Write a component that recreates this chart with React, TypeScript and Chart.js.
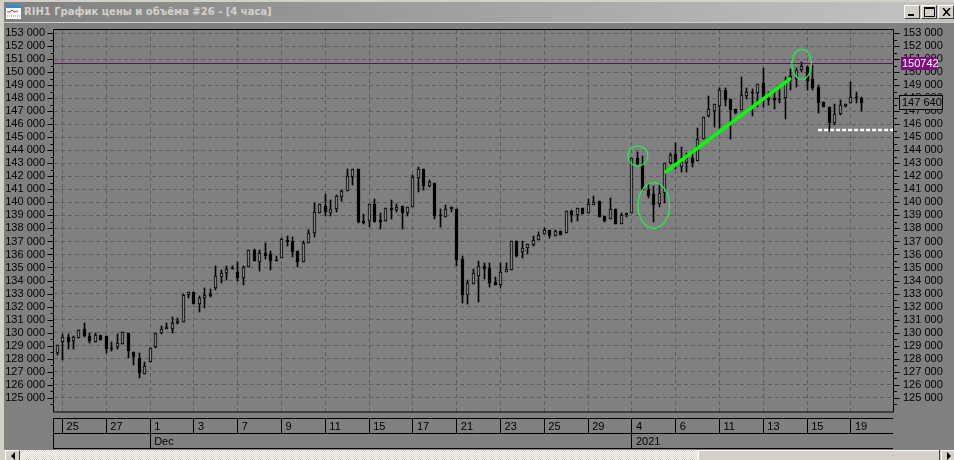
import React, { useEffect, useRef } from "react";
import { Chart, registerables } from "chart.js";

Chart.register(...registerables);

const title = "RIH1 График цены и объёма #26 - [4 часа]";

const opens = [128440,129280,129670,129360,129590,130310,129740,129280,129820,129770,128850,128900,129150,130000,128540,128080,126850,127770,128870,129970,130310,130280,130740,130820,132920,133150,132200,132690,133000,133460,134280,134540,134970,134690,134230,135050,136330,135440,136150,136000,135540,135740,137100,137030,136260,135440,136900,137620,139210,139690,139180,139510,140440,140900,141980,142560,138570,138570,139870,138620,138590,139540,139410,139690,139210,139670,141900,142560,141260,141490,139030,138900,139460,139490,135620,132900,133740,134360,135150,134950,133920,133670,134670,134820,137030,136200,136510,136740,137130,137560,137920,137440,137800,137670,139330,139050,139560,139200,139820,140080,138920,138690,139460,138310,139000,139210,143380,142850,140950,140620,139850,140690,143000,143720,142740,143050,143380,143210,144850,146640,147050,147440,148640,147920,147150,147080,148210,148490,148440,149150,148050,148000,147950,148000,149360,149490,150180,150440,149460,148850,147720,147310,146130,146770,147410,147670,148050,148030];
const highs = [129080,129920,129850,129740,130230,130770,130000,130000,129820,129770,129260,129870,130050,130000,128540,128460,127770,128850,130000,130540,130770,131230,131150,133000,133080,133150,132800,133410,133310,135150,134770,135150,135080,135460,135080,136380,136410,136330,136850,136230,135870,137280,137410,137310,136260,137030,137870,139950,139850,140640,140180,140570,140980,142590,142560,142560,139080,139870,140230,139150,139540,140150,139870,139690,139620,142100,142690,142560,141740,141490,139460,139770,139620,139490,135850,134030,134870,135490,135330,135330,134260,135380,135310,137030,137030,137030,136770,137410,137720,138030,137920,137900,137800,139380,139440,139540,139560,140260,140460,140080,138920,140330,139460,139180,139150,143380,143900,143560,141410,141260,141410,143000,143820,144540,144230,143820,144030,145690,146590,148180,147540,148770,148770,147920,147200,149620,148770,148690,149130,150310,148510,148640,148770,149670,150230,150310,150770,150490,150560,149000,147720,147310,147540,147870,147590,149260,148460,148130];
const lows = [128260,127870,128720,128720,129590,129670,129200,129280,129440,128440,128590,128740,129150,128050,127510,126510,126850,127770,128820,129920,130280,129970,130670,130820,132670,132200,131560,131900,132740,133280,133820,134050,134900,134000,133670,135050,135510,134740,135670,134820,135510,135740,136670,135820,135030,135440,136900,137360,139210,138980,138980,139260,140130,140900,141330,138410,138330,138100,138510,137950,138590,138720,139230,137950,138950,139670,140820,140950,141210,138740,138100,138900,139280,135130,132280,132210,133740,132360,134130,133510,133670,133440,134670,134770,135800,135740,136030,136690,137130,137560,137260,137440,137510,137670,138510,138590,139130,139200,139820,138900,138510,138690,138310,138310,138900,139210,142870,140950,140310,138510,139670,139920,142950,142540,142360,142360,142690,143210,144850,146590,145820,145690,147440,144900,146800,147080,147980,146640,147360,147360,147490,147180,147620,146410,148640,148900,150050,148640,148640,146850,147310,145510,145950,146740,147310,147670,147640,147050];
const closes = [129080,129670,129280,129620,130180,129740,129360,129820,129440,128720,128720,129230,130050,128590,128130,126900,127460,128850,130000,130310,130460,130740,130920,132920,133080,132200,132690,132920,132820,134380,134540,134920,134920,134230,135000,136380,135510,136150,135900,135510,135510,137180,136980,136210,135440,136850,137620,139230,139850,139260,139460,140490,140870,142030,142560,138490,138440,139870,138510,138510,139540,139440,139670,139210,139620,141920,142560,141280,141560,138980,138920,139460,139620,135590,132900,133770,134540,135150,134870,133820,133670,134690,134850,137030,135870,136460,136770,137150,137490,137920,137440,137800,137510,139330,139050,139540,139130,139870,140050,138900,138590,139460,138310,139000,139150,143380,142920,140950,140490,139820,140690,143000,143640,143000,143080,143380,143050,144850,146590,147150,147540,148640,147870,147100,146900,148230,148460,148380,149130,148080,147900,147900,147900,149150,149740,150150,150490,149360,148770,147670,147310,146130,146770,147460,147590,148080,148000,147640];

const dateLabels = ["25","27","1","3","7","9","11","15","17","21","23","25","29","4","6","11","13","15","19"];
const dateIndices = [1,9,17,25,33,41,49,57,65,73,81,89,97,105,113,121,129,137,145];
const periodLabels = ["Dec","2021"];
const periodIndices = [17,105];
const priceTicks = [153000,152500,152000,151500,151000,150500,150000,149500,149000,148500,148000,147500,147000,146500,146000,145500,145000,144500,144000,143500,143000,142500,142000,141500,141000,140500,140000,139500,139000,138500,138000,137500,137000,136500,136000,135500,135000,134500,134000,133500,133000,132500,132000,131500,131000,130500,130000,129500,129000,128500,128000,127500,127000,126500,126000,125500,125000,124500];

const trendIndices = [111,134];
const trendPrices = [142290,149540];
const supportIndices = [139,152.9];
const supportPrices = [145570,145570];
const lastHighPrice = 150742;
const lastClosePrice = 147640;
const circleIndices = [106.06,108.98,136.0];
const circlePrices = [143570,139765,150617];
const circleIndexRadii = [1.83,2.89,1.79];
const circlePriceRadii = [769,1752,1153];

const GRAY = "#808080";
const FONT = "11px 'Liberation Sans', Arial, sans-serif";
const fmt = (v: number) => {
  const s = String(Math.round(v));
  return s.slice(0, -3) + " " + s.slice(-3);
};
const priceTickList = (s: any) => { s.ticks = priceTicks.map((value) => ({ value })); };
const priceLabel = (v: any) => (v % 1000 === 0 ? fmt(v) : "");

const frame = {
  id: "frame",
  afterDatasetsUpdate(chart: any) {
    chart.data.datasets.forEach((d: any, n: number) => {
      if (d.type === "line") {
        if (d.label === "High") chart.getDatasetMeta(n).data.forEach((el: any) => { el.y = Math.round(el.y) + 0.5; });
        return;
      }
      chart.getDatasetMeta(n).data.forEach((el: any) => {
        el.x = Math.floor(el.x) + 0.5;
        const top = Math.round(Math.min(el.y, el.base));
        let bot = Math.round(Math.max(el.y, el.base));
        if (bot - top < 1) bot = top + 1;
        el.y = top;
        el.base = bot;
      });
    });
  },
  afterDraw(chart: any) {
    const { ctx, chartArea: a, scales } = chart;
    const { x, y } = scales;
    ctx.save();
    ctx.strokeStyle = "#000";
    ctx.lineWidth = 1;
    ctx.beginPath();
    ctx.rect(53.5, a.top - 0.5, a.right - 53.5 - 0.5, a.bottom - a.top + 0.5);
    for (const t of y.ticks) {
      const p = Math.round(y.getPixelForValue(t.value)) + 0.5;
      const major = t.value % 1000 === 0;
      ctx.moveTo(major ? 47.5 : 50.5, p);
      ctx.lineTo(53.5, p);
      ctx.moveTo(a.right - 0.5, p);
      ctx.lineTo(a.right + (major ? 5.5 : 3), p);
    }
    const R = a.right - 1;
    [418.5, 433.5, 448.5].forEach((ly) => {
      ctx.moveTo(53.5, ly);
      ctx.lineTo(R, ly);
    });
    ctx.moveTo(53.5, 418);
    ctx.lineTo(53.5, 449);
    dateIndices.forEach((i) => {
      const p = Math.floor(x.getPixelForValue(i)) + 0.5;
      ctx.moveTo(p, 418);
      ctx.lineTo(p, 433);
    });
    periodIndices.forEach((i) => {
      const p = Math.floor(x.getPixelForValue(i)) + 0.5;
      ctx.moveTo(p, 433);
      ctx.lineTo(p, 448);
    });
    ctx.stroke();

    ctx.strokeStyle = "#19f545";
    ctx.lineWidth = 1.2;
    circleIndices.forEach((c, n) => {
      const cx = x.getPixelForValue(c);
      const cy = y.getPixelForValue(circlePrices[n]);
      const rx = x.getPixelForValue(c + circleIndexRadii[n]) - cx;
      const ry = cy - y.getPixelForValue(circlePrices[n] + circlePriceRadii[n]);
      ctx.beginPath();
      ctx.ellipse(cx, cy, rx, ry, 0, 0, Math.PI * 2);
      ctx.stroke();
    });
    ctx.lineWidth = 1;

    ctx.font = FONT;
    ctx.textBaseline = "middle";
    ctx.textAlign = "left";
    const hy = Math.round(y.getPixelForValue(lastHighPrice));
    ctx.fillStyle = "#7d0f7d";
    ctx.fillRect(901, hy - 6, 36, 13);
    ctx.fillStyle = "#fff";
    ctx.fillText(String(lastHighPrice), 902, hy + 1);
    const cy = Math.round(y.getPixelForValue(lastClosePrice));
    ctx.fillStyle = GRAY;
    ctx.fillRect(899.5, cy - 7.5, 43, 14);
    ctx.strokeStyle = "#000";
    ctx.strokeRect(899.5, cy - 7.5, 43, 14);
    ctx.fillStyle = "#000";
    ctx.fillText(fmt(lastClosePrice), 902, cy);
    ctx.restore();
  },
};

function App() {
  const ref = useRef<HTMLCanvasElement>(null);
  useEffect(() => {
    const gridColor = "#5e5e5e";
    const bodies = opens.map((o, i) => ({ x: i, y: [o, closes[i]] }));
    const wicks = highs.map((h, i) => ({ x: i, y: [lows[i], h] }));
    const chart = new Chart(ref.current!, {
      type: "bar",
      data: {
        datasets: [
          {
            type: "line", label: "Trend", order: 0,
            data: trendIndices.map((x, i) => ({ x, y: trendPrices[i] })),
            borderColor: "#00ff00", borderWidth: 3.5, pointRadius: 0, xAxisID: "x", yAxisID: "y",
          },
          {
            type: "line", label: "Support", order: 0,
            data: supportIndices.map((x, i) => ({ x, y: supportPrices[i] })),
            borderColor: "#ffffff", borderWidth: 2.5, borderDash: [4, 2], pointRadius: 0, xAxisID: "x", yAxisID: "y",
          },
          {
            type: "line", label: "High", order: 0,
            data: [{ x: -1, y: lastHighPrice }, { x: 153, y: lastHighPrice }],
            borderColor: "#5f115f", borderWidth: 1, pointRadius: 0, xAxisID: "x", yAxisID: "y",
          },
          {
            label: "Body", order: 1, data: bodies, barThickness: 3, grouped: false, minBarLength: 1,
            backgroundColor: opens.map((o, i) => (closes[i] > o ? GRAY : "#000")),
            borderColor: "#000", borderWidth: 1, borderSkipped: false,
          },
          {
            label: "Wick", order: 2, data: wicks, barThickness: 1, grouped: false,
            backgroundColor: "#000", borderWidth: 0,
          },
        ] as any,
      },
      options: {
        responsive: false,
        animation: false,
        events: [],
        layout: { padding: { left: 0, right: 0, top: 30, bottom: 0 } },
        plugins: { legend: { display: false }, tooltip: { enabled: false } },
        scales: {
          x: {
            type: "linear", offset: false, min: -0.566, max: 152.86,
            afterFit: (s: any) => { s.height = 48; },
            afterBuildTicks: (s: any) => { s.ticks = dateIndices.map((value) => ({ value })); },
            grid: { offset: false, color: gridColor, drawTicks: false, lineWidth: 1 },
            border: { display: false, dash: [4, 3] },
            ticks: {
              autoSkip: false, maxRotation: 0, minRotation: 0, align: "start", labelOffset: 4, padding: 7,
              color: "#000", font: { family: "'Liberation Sans', Arial, sans-serif", size: 11, lineHeight: "15px" },
              callback: (_v: any, i: number) => {
                const p = periodIndices.indexOf(dateIndices[i]);
                return p >= 0 ? [dateLabels[i], periodLabels[p]] : [dateLabels[i]];
              },
            },
          },
          y: {
            position: "left", min: 123893, max: 153254,
            afterFit: (s: any) => { s.width = 54; },
            afterBuildTicks: priceTickList,
            grid: {
              color: (c: any) => (c.tick && c.tick.value % 1000 === 0 ? gridColor : "rgba(0,0,0,0)"),
              drawTicks: false,
            },
            border: { display: false, dash: [4, 3] },
            ticks: {
              autoSkip: false, padding: 9, color: "#000",
              font: { family: "'Liberation Sans', Arial, sans-serif", size: 11 },
              callback: priceLabel,
            },
          },
          y1: {
            position: "right", min: 123893, max: 153254,
            afterFit: (s: any) => { s.width = 60; },
            afterBuildTicks: priceTickList,
            grid: { display: false, drawTicks: false },
            border: { display: false },
            ticks: {
              autoSkip: false, padding: 9, color: "#000",
              font: { family: "'Liberation Sans', Arial, sans-serif", size: 11 },
              callback: priceLabel,
            },
          },
        },
      } as any,
      plugins: [frame],
    });
    return () => chart.destroy();
  }, []);

  const abs = (l: number, t: number, w: number, h: number, extra: any = {}) => ({
    position: "absolute" as const, left: l, top: t, width: w, height: h, ...extra,
  });
  const btn = { background: "#d4d0c8", borderTop: "1px solid #fff", borderLeft: "1px solid #fff", borderRight: "1px solid #404040", borderBottom: "1px solid #404040", boxSizing: "border-box" as const };
  const checker = { background: "repeating-conic-gradient(#d4d0c8 0 25%, #ffffff 0 50%) 0 0 / 2px 2px" };

  return (
    <div style={{ position: "fixed", left: 0, top: 0, width: 954, height: 460, overflow: "hidden", background: GRAY }}>
      <canvas ref={ref} width={954} height={460} style={{ position: "absolute", left: 0, top: 0, width: 954, height: 460, background: GRAY }} />
      <div style={abs(0, 0, 954, 2, { background: "#d4d0c8" })} />
      <div style={abs(0, 0, 4, 460, { background: "#d4d0c8" })} />
      <div style={abs(4, 2, 950, 20, { background: "linear-gradient(90deg,#808080,#c4c4c4)" })} />
      <div style={abs(4, 22, 950, 1, { background: "#d4d0c8" })} />
      <svg style={abs(6, 5, 15, 14)} viewBox="0 0 15 14">
        <rect x="0" y="0" width="15" height="14" fill="#ffffff" />
        <rect x="0" y="0" width="15" height="3" fill="#2a8fd0" />
        <path d="M1 7 L4 7 L6 5 L8 7 L12 6" stroke="#e03030" fill="none" />
        <path d="M1 11 L14 11" stroke="#3a7fd0" strokeDasharray="1 1" fill="none" />
      </svg>
      <div style={{ position: "absolute", left: 24, top: 4, height: 16, color: "#d4d0c8", whiteSpace: "nowrap", font: "bold 10px/16px 'DejaVu Sans', sans-serif" }}>{title}</div>
      <div style={abs(904, 5, 16, 14, btn)}><div style={abs(3, 8, 6, 2, { background: "#000" })} /></div>
      <div style={abs(921, 5, 16, 14, btn)}><div style={abs(2, 1, 11, 10, { border: "1px solid #000", borderTop: "2px solid #000", boxSizing: "border-box" })} /></div>
      <div style={abs(938, 5, 16, 14, btn)}>
        <svg style={abs(3, 2, 9, 8)} viewBox="0 0 9 8"><path d="M1 0 L8 8 M8 0 L1 8" stroke="#000" strokeWidth="1.6" /></svg>
      </div>
      <div style={abs(4, 450, 950, 10, { background: "#d4d0c8" })} />
      <div style={abs(20, 450, 678, 10, checker)} />
      <div style={abs(5, 450, 15, 10, { ...btn, borderBottom: "none" })}>
        <svg style={abs(4, 1, 6, 8)} viewBox="0 0 6 8"><path d="M5 0 L1 4 L5 8 Z" fill="#000" /></svg>
      </div>
      <div style={abs(698, 450, 241, 10, { background: "#d4d0c8", borderTop: "1px solid #fff", borderLeft: "1px solid #fff", boxSizing: "border-box" })} />
      <div style={abs(939, 450, 1, 10, { background: "#404040" })} />
      <div style={abs(941, 450, 13, 10, { ...btn, borderBottom: "none", borderRight: "none" })}>
        <svg style={abs(4, 1, 6, 8)} viewBox="0 0 6 8"><path d="M1 0 L5 4 L1 8 Z" fill="#000" /></svg>
      </div>
    </div>
  );
}

export default App;
